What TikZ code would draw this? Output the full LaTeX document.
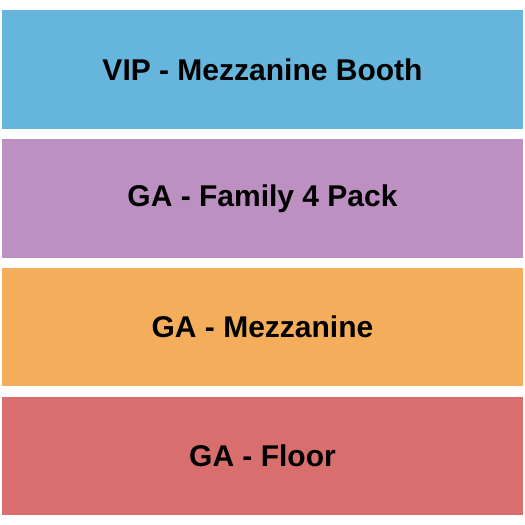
\documentclass[tikz,border=0pt]{standalone}
\usepackage{fontspec}
\setmainfont{Liberation Sans}
\usepackage{tikz}
\usepackage{xcolor}

\definecolor{vipblue}{RGB}{102,181,220}
\definecolor{famlilac}{RGB}{189,144,194}
\definecolor{mezorange}{RGB}{244,174,91}
\definecolor{floorred}{RGB}{216,110,110}

\tikzset{
    section/.style={minimum width=521pt, minimum height=118.5pt, inner sep=0pt,
        font=\fontsize{30}{32}\selectfont\bfseries, text=black}
}

\begin{document}
\begin{tikzpicture}[x=1pt, y=-1pt]
    \useasboundingbox (0,0) rectangle (525,525);

    \node[section, fill=vipblue]   (vip)   at (262.5,69.4)  {VIP - Mezzanine Booth};
    \node[section, fill=famlilac]  (fam)   at (262.5,198.4) {GA - Family 4 Pack};
    \node[section, fill=mezorange] (mezz)  at (262.5,327.2) {GA - Mezzanine};
    \node[section, fill=floorred]  (floor) at (262.5,456.2) {GA - Floor};
\end{tikzpicture}
\end{document}
